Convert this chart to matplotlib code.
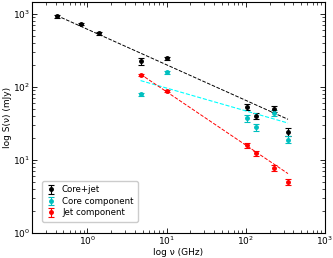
import numpy as np
import matplotlib
matplotlib.use("Agg")
import matplotlib.pyplot as plt

# --- Data ---
# frequencies in GHz
nu_total = [0.41, 0.84, 1.39, 4.7, 10.0, 105, 133, 228, 341]
s_total = [930, 730, 540, 225, 246, 53, 40, 50, 24]
e_total = [40, 30, 20, 25, 10, 5, 4, 5, 3]

nu_comp = [4.7, 10.0, 105, 133, 228, 341]
s_core = [79, 158, 37, 28, 44, 19]
e_core = [3, 8, 4, 3, 4, 2]
s_jet = [146, 87, 15.8, 12.3, 7.7, 5.0]
e_jet = [5, 3, 1.2, 1.0, 0.7, 0.5]

# fitted power-law lines (end points)
fit_total_x = [0.41, 341]
fit_total_y = [950, 36]
fit_core_x = [4.7, 341]
fit_core_y = [122, 32]
fit_jet_x = [4.7, 341]
fit_jet_y = [149, 6.5]

# --- Plot ---
fig = plt.figure(figsize=(3.33, 2.58), dpi=100)
ax = fig.add_axes([0.096, 0.097, 0.88, 0.895])

ms = 2.5
ax.errorbar(nu_total, s_total, yerr=e_total, fmt='o', color='black', ms=ms,
            capsize=2, elinewidth=0.8, capthick=0.8, label='Core+jet')
ax.errorbar(nu_comp, s_core, yerr=e_core, fmt='o', color='c', ms=ms,
            capsize=2, elinewidth=0.8, capthick=0.8, label='Core component')
ax.errorbar(nu_comp, s_jet, yerr=e_jet, fmt='o', color='red', ms=ms,
            capsize=2, elinewidth=0.8, capthick=0.8, label='Jet component')

ax.plot(fit_total_x, fit_total_y, '--', color='black', lw=0.7)
ax.plot(fit_core_x, fit_core_y, '--', color='cyan', lw=0.8)
ax.plot(fit_jet_x, fit_jet_y, '--', color='red', lw=0.7)

ax.set_xscale('log')
ax.set_yscale('log')
ax.set_xlim(0.2, 1000)
ax.set_ylim(1, 1450)

ax.set_xlabel('log ν (GHz)', fontsize=6.5, labelpad=0.5)
ax.set_ylabel('log S(ν) (mJy)', fontsize=6.5, labelpad=0.5)
ax.tick_params(which='both', direction='in', top=True, right=True, labelsize=6.5, pad=1.5)
ax.tick_params(which='major', length=3.5, width=0.6)
ax.tick_params(which='minor', length=2, width=0.5)
for sp in ax.spines.values():
    sp.set_linewidth(0.8)

ax.legend(loc='lower left', fontsize=6.2, bbox_to_anchor=(0.02, 0.03),
          handlelength=1.0, borderpad=0.5, labelspacing=0.3, framealpha=1)

plt.savefig('out.png', dpi=100)
plt.close()
